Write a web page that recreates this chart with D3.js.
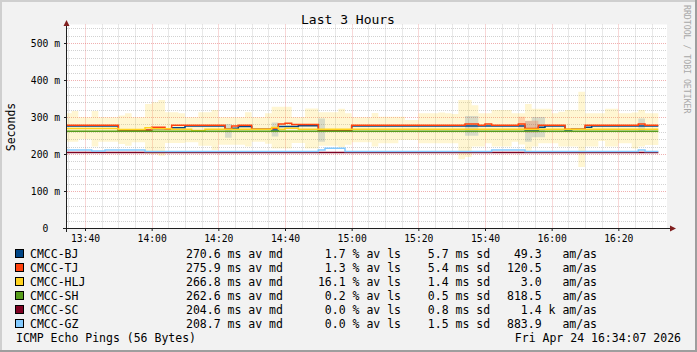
<!DOCTYPE html>
<html lang="en">
<head>
<meta charset="utf-8">
<style>
  body { margin: 0; background: #f2f2f2; }
  svg text { font-family: "DejaVu Sans Mono", monospace; white-space: pre; fill: #000; }
</style>
<script src="https://cdn.jsdelivr.net/npm/d3@7/dist/d3.min.js"></script>
</head>
<body>
<script>
  let day = "2026-04-24";
  let hosts = ["CMCC-BJ", "CMCC-TJ", "CMCC-HLJ", "CMCC-SH", "CMCC-SC", "CMCC-GZ"];
  let hostColors = ["#004586", "#ff420e", "#ffd320", "#579d1c", "#7e0021", "#83caff"];

  // median RTT in ms, each entry starts a step: [time, ms]
  let bjMedian = [["13:34", 275.5], ["13:50", 263], ["13:52", 264.5], ["14:00", 268], ["14:06", 271], ["14:10", 275.5],
    ["14:22", 267], ["14:24", 269.5], ["14:26", 274.5], ["14:30", 267], ["14:36", 265], ["14:38", 274], ["14:44", 276.5],
    ["14:50", 264], ["15:00", 276], ["15:52", 265], ["15:56", 272], ["15:58", 276], ["16:04", 265], ["16:06", 267],
    ["16:10", 272], ["16:12", 276]];
  let tjMedian = [["13:34", 278], ["13:50", 265], ["14:00", 272], ["14:04", 267.5], ["14:06", 278], ["14:22", 267],
    ["14:24", 275.7], ["14:26", 278], ["14:30", 267], ["14:36", 269.5], ["14:38", 281], ["14:40", 283], ["14:42", 280],
    ["14:50", 265], ["15:00", 278], ["15:34", 281], ["15:38", 278], ["15:40", 281], ["15:42", 278], ["15:50", 281],
    ["15:52", 269], ["15:56", 278], ["16:04", 267], ["16:10", 278], ["16:26", 281], ["16:28", 278]];
  let hljMedian = [["13:34", 269], ["13:50", 266], ["13:58", 271], ["14:00", 268.5], ["14:06", 267], ["14:12", 263.5],
    ["14:16", 267], ["14:36", 271.5], ["14:38", 267], ["14:40", 269.5], ["14:44", 266.7]];
  let shMedian = [["13:34", 261.8]];
  let scMedian = [["13:34", 204]];
  let gzMedian = [["13:34", 210.5], ["13:42", 208], ["13:46", 210.5], ["13:58", 206.5], ["14:50", 211], ["14:52", 215.5],
    ["14:58", 206.5], ["15:42", 210.5], ["15:52", 206.5], ["16:26", 210.5], ["16:28", 206.5]];
  let medians = [bjMedian, tjMedian, hljMedian, shMedian, scMedian, gzMedian];
  let dataEnd = "16:32";

  // HLJ spread: [time, high ms, low ms]
  let hljSpread = [["13:34", 310, 233], ["13:36", 316, 233], ["13:38", 299, 240], ["13:42", 316, 220], ["13:44", 299, 233],
    ["13:50", 304, 227], ["13:52", 310, 222], ["13:54", 299, 232], ["13:58", 335, 200], ["14:00", 340, 200],
    ["14:02", 346, 195], ["14:04", 313, 230], ["14:08", 310, 230], ["14:10", 299, 232], ["14:14", 313, 222],
    ["14:18", 319, 211], ["14:20", 299, 225], ["14:28", 313, 220], ["14:30", 299, 233], ["14:34", 310, 228],
    ["14:36", 328, 215], ["14:42", 299, 230], ["14:46", 323, 215], ["14:50", 313, 222], ["14:56", 322, 218],
    ["14:58", 310, 225], ["15:00", 299, 232], ["15:06", 311, 220], ["15:08", 301, 229], ["15:14", 301, 238],
    ["15:16", 292, 238], ["15:20", 310, 229], ["15:26", 312, 229], ["15:28", 310, 229], ["15:30", 308, 229],
    ["15:32", 346, 186], ["15:34", 346, 192], ["15:36", 332, 220], ["15:38", 310, 220], ["15:40", 310, 229],
    ["15:42", 319, 220], ["15:48", 310, 233], ["15:50", 310, 226], ["15:52", 335, 209], ["15:54", 322, 220],
    ["15:56", 322, 229], ["16:00", 310, 229], ["16:02", 314, 220], ["16:04", 319, 220], ["16:08", 368, 165],
    ["16:10", 310, 220], ["16:14", 310, 235], ["16:16", 322, 220], ["16:20", 310, 229], ["16:24", 312, 215],
    ["16:26", 319, 220], ["16:28", 310, 224]];
  // short spread blocks of BJ and TJ: [from, to, high ms, low ms]
  let bjSpread = [["14:22", "14:24", 281, 244], ["14:36", "14:38", 285, 247], ["14:50", "14:52", 296, 233],
    ["15:34", "15:38", 303, 249], ["15:52", "15:54", 289, 233], ["15:54", "15:58", 300, 245], ["16:26", "16:28", 296, 260]];
  let tjSpread = [["15:50", "15:52", 301, 265], ["15:52", "15:56", 290, 258]];

  // legend figures
  let avgMedian = [270.6, 275.9, 266.8, 262.6, 204.6, 208.7];
  let avgLoss = [1.7, 1.3, 16.1, 0.2, 0.0, 0.0];
  let avgSd = [5.7, 5.4, 1.4, 0.5, 0.8, 1.5];
  let amAs = [49.3, 120.5, 3.0, 818.5, 1400, 883.9];

  let yMajor = [0, 100, 200, 300, 400, 500];

  let parse = d3.timeParse("%Y-%m-%d %H:%M:%S");
  let t = function(s) { return parse(day + " " + (s.length === 5 ? s + ":00" : s)); };

  let W = 697, H = 352;
  let plotLeft = 67, plotRight = 667, plotTop = 24.5, plotBottom = 228;

  let svg = d3.select("body").append("svg")
    .attr("width", W)
    .attr("height", H);

  // background and 3d frame
  svg.append("rect").attr("width", W).attr("height", H).attr("fill", "#f2f2f2");
  svg.append("rect").attr("x", 0).attr("y", 0).attr("width", W).attr("height", 2).attr("fill", "#cfcfcf");
  svg.append("rect").attr("x", 0).attr("y", 0).attr("width", 2).attr("height", H).attr("fill", "#cfcfcf");
  svg.append("rect").attr("x", 0).attr("y", H - 2).attr("width", W).attr("height", 2).attr("fill", "#9e9e9e");
  svg.append("rect").attr("x", W - 2).attr("y", 0).attr("width", 2).attr("height", H).attr("fill", "#9e9e9e");

  let x = d3.scaleTime()
    .domain([t("13:34:36"), t("16:34:36")])
    .range([plotLeft, plotRight]);

  let y = d3.scaleLinear()
    .domain([0, 550])
    .range([plotBottom, plotTop]);

  svg.append("rect")
    .attr("x", plotLeft).attr("y", plotTop)
    .attr("width", plotRight - plotLeft).attr("height", plotBottom - plotTop)
    .attr("fill", "#fff");

  svg.append("clipPath").attr("id", "plot")
    .append("rect")
    .attr("x", plotLeft).attr("y", plotTop)
    .attr("width", plotRight - plotLeft).attr("height", plotBottom - plotTop);

  // grid
  let grid = svg.append("g");
  let snap = function(v) { return Math.round(v) + 0.5; };
  let minorT = x.ticks(d3.timeMinute.every(5)).filter(function(d) { return d.getMinutes() % 20 !== 0; });
  let majorT = x.ticks(d3.timeMinute.every(20));
  let minorV = d3.range(20, 551, 20).filter(function(v) { return v % 100 !== 0; });
  let minorColor = "rgba(143,143,143,0.4)", majorColor = "rgba(222,79,79,0.45)";

  grid.selectAll(".vmin").data(minorT).enter().append("line")
    .attr("x1", function(d) { return snap(x(d)); }).attr("x2", function(d) { return snap(x(d)); })
    .attr("y1", plotTop).attr("y2", plotBottom)
    .attr("stroke", minorColor).attr("stroke-dasharray", "1,1");
  grid.selectAll(".hmin").data(minorV).enter().append("line")
    .attr("x1", plotLeft).attr("x2", plotRight)
    .attr("y1", function(d) { return snap(y(d)); }).attr("y2", function(d) { return snap(y(d)); })
    .attr("stroke", minorColor).attr("stroke-dasharray", "1,1");
  grid.selectAll(".vmaj").data(majorT).enter().append("line")
    .attr("x1", function(d) { return snap(x(d)); }).attr("x2", function(d) { return snap(x(d)); })
    .attr("y1", plotTop).attr("y2", plotBottom)
    .attr("stroke", majorColor).attr("stroke-dasharray", "1,1");
  grid.selectAll(".hmaj").data(yMajor.slice(1)).enter().append("line")
    .attr("x1", plotLeft).attr("x2", plotRight)
    .attr("y1", function(d) { return snap(y(d)); }).attr("y2", function(d) { return snap(y(d)); })
    .attr("stroke", majorColor).attr("stroke-dasharray", "1,1");

  let plot = svg.append("g").attr("clip-path", "url(#plot)");

  // spread areas
  let spreadPts = hljSpread.map(function(d) { return { t: t(d[0]), hi: d[1], lo: d[2] }; });
  let lastSpread = hljSpread[hljSpread.length - 1];
  spreadPts.push({ t: t(dataEnd), hi: lastSpread[1], lo: lastSpread[2] });

  let area = d3.area()
    .x(function(d) { return x(d.t); })
    .y0(function(d) { return y(d.lo); })
    .y1(function(d) { return y(d.hi); })
    .curve(d3.curveStepAfter);

  plot.append("path")
    .attr("d", area(spreadPts))
    .attr("fill", hostColors[2])
    .attr("fill-opacity", 0.2);

  [[bjSpread, hostColors[0], 0.15], [tjSpread, hostColors[1], 0.2]].forEach(function(s) {
    s[0].forEach(function(b) {
      plot.append("path")
        .attr("d", area([{ t: t(b[0]), hi: b[2], lo: b[3] }, { t: t(b[1]), hi: b[2], lo: b[3] }]))
        .attr("fill", s[1])
        .attr("fill-opacity", s[2]);
    });
  });

  // median lines
  let line = d3.line()
    .x(function(d) { return x(d.t); })
    .y(function(d) { return y(d.v); })
    .curve(d3.curveStepAfter);

  medians.forEach(function(steps, i) {
    let pts = steps.map(function(d) { return { t: t(d[0]), v: d[1] }; });
    pts.push({ t: t(dataEnd), v: steps[steps.length - 1][1] });
    plot.append("path")
      .attr("d", line(pts))
      .style("fill", "none")
      .style("stroke", hostColors[i])
      .style("stroke-width", 1.5);
  });

  // axes
  let xAxis = svg.append("g")
    .attr("transform", "translate(0," + plotBottom + ")")
    .call(d3.axisBottom(x).tickValues(majorT).tickFormat(d3.timeFormat("%H:%M")).tickSize(3).tickPadding(4));
  xAxis.select(".domain").remove();
  xAxis.selectAll("line").attr("stroke", "#1f1f1f");
  xAxis.selectAll("text").style("font-size", "9.7px").style("font-family", "DejaVu Sans Mono");

  let yAxis = svg.append("g")
    .attr("transform", "translate(" + plotLeft + ",0)")
    .call(d3.axisLeft(y).tickValues(yMajor)
      .tickFormat(function(d) { return d === 0 ? "  0  " : d + " m"; })
      .tickSize(3).tickPadding(4));
  yAxis.select(".domain").remove();
  yAxis.selectAll("line").attr("stroke", "#1f1f1f");
  yAxis.selectAll("text").style("font-size", "9.7px").style("font-family", "DejaVu Sans Mono");

  svg.append("line").attr("x1", plotLeft - 4).attr("x2", plotRight + 4)
    .attr("y1", plotBottom + 0.5).attr("y2", plotBottom + 0.5).attr("stroke", "#1f1f1f");
  svg.append("line").attr("x1", plotLeft - 0.5).attr("x2", plotLeft - 0.5)
    .attr("y1", plotBottom + 4).attr("y2", plotTop - 1).attr("stroke", "#1f1f1f");
  svg.append("path").attr("d", "M63.5,26 L69.5,26 L66.5,20 Z").attr("fill", "#801f1f");
  svg.append("path").attr("d", "M670,225.5 L670,231.5 L676,228.5 Z").attr("fill", "#801f1f");

  // titles
  svg.append("text").attr("x", 348).attr("y", 23.5).attr("text-anchor", "middle")
    .style("font-size", "13px").text("Last 3 Hours");
  svg.append("text").attr("transform", "translate(15,127) rotate(-90)").attr("text-anchor", "middle")
    .style("font-size", "11.5px").text("Seconds");
  svg.append("text").attr("transform", "translate(684,5) rotate(90)")
    .style("font-size", "8.2px").style("fill", "#a8a8a8").text("RRDTOOL / TOBI OETIKER");

  // legend
  let fmt = function(v) { return v.toFixed(1).padStart(5); };
  let legend = svg.append("g").style("font-size", "11.5px");
  hosts.forEach(function(h, i) {
    let cy = 254 + i * 14;
    legend.append("rect").attr("x", 15.5).attr("y", cy - 4.5).attr("width", 8).attr("height", 8)
      .attr("fill", hostColors[i]).attr("stroke", "#000");
    legend.append("text").attr("x", 30).attr("y", cy + 4).text(h);
    legend.append("text").attr("x", 186).attr("y", cy + 4).text(fmt(avgMedian[i]) + " ms av md");
    legend.append("text").attr("x", 311).attr("y", cy + 4).text(fmt(avgLoss[i]) + " % av ls");
    legend.append("text").attr("x", 414).attr("y", cy + 4).text(fmt(avgSd[i]) + " ms sd");
    let a = amAs[i] >= 1000 ? fmt(amAs[i] / 1000) + " k" : fmt(amAs[i]) + "  ";
    legend.append("text").attr("x", 507).attr("y", cy + 4).text(a + " am/as");
  });
  legend.append("text").attr("x", 16).attr("y", 338 + 4).text("ICMP Echo Pings (56 Bytes)");
  legend.append("text").attr("x", 681).attr("y", 338 + 4).attr("text-anchor", "end").text("Fri Apr 24 16:34:07 2026");
</script>
</body>
</html>
